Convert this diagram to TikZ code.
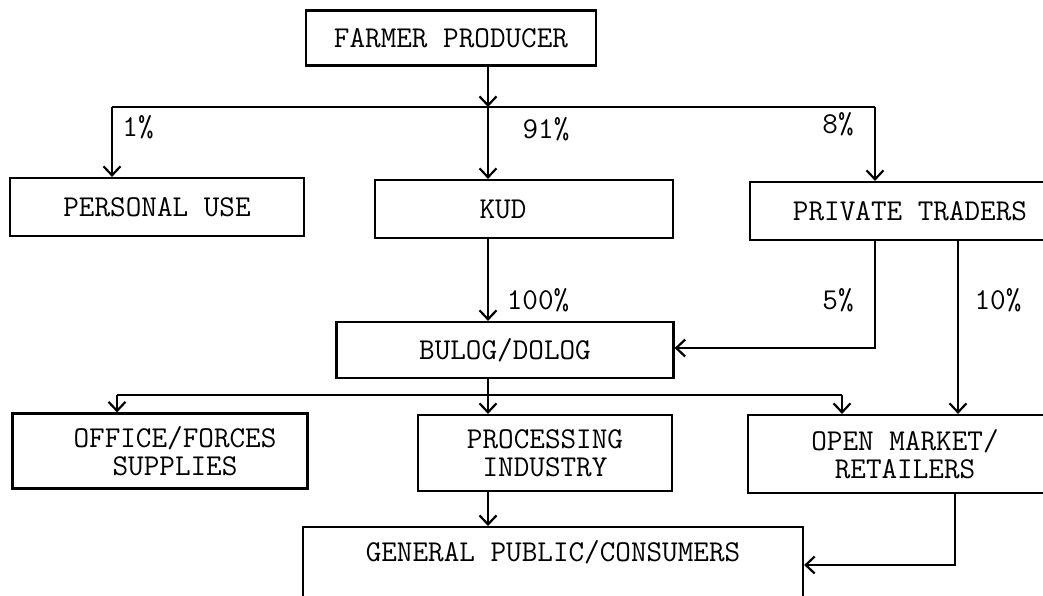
\documentclass[tikz,border=0pt]{standalone}
\usepackage{fontspec}
\usetikzlibrary{arrows.meta}
\tikzset{>={Straight Barb[length=9pt, width=17pt]}, % open v-shaped heads
box/.style={draw, rectangle, align=center, inner sep=0pt, font=\ttfamily\fontsize{30.3}{28.5}\selectfont}, % the typed boxes
pct/.style={font=\ttfamily\fontsize{30.3}{28.5}\selectfont, inner sep=0pt}, % the percentage labels
}
\begin{document}
\begin{tikzpicture}[x=1pt, y=-1pt, line width=2.2pt] % one unit is one pixel of the scan
  \useasboundingbox (0,0) rectangle (1043,595);
  \clip (0,0) rectangle (1043,595);

  \node[box, minimum width=290pt, minimum height=55pt] (farmer) at (451,38) {FARMER PRODUCER};
  \node[box, minimum width=294pt, minimum height=58pt] (personal) at (157,207) {PERSONAL USE};
  \node[box, minimum width=298pt, minimum height=58pt] (kud) at (524,209) {KUD\hspace*{42pt}};
  \node[box, minimum width=320pt, minimum height=58pt] (traders) at (910,211) {PRIVATE TRADERS};
  \node[box, minimum width=337pt, minimum height=56pt] (bulog) at (505,350) {BULOG/DOLOG};
  \node[box, minimum width=295pt, minimum height=75pt] (office) at (160,451) {\hspace*{30pt}OFFICE/FORCES\\\hspace*{30pt}SUPPLIES};
  \node[box, minimum width=254pt, minimum height=76pt] (industry) at (545,453) {PROCESSING\\INDUSTRY};
  \node[box, minimum width=314pt, minimum height=78pt] (market) at (905,454) {OPEN MARKET/\\RETAILERS};
  \node[box, minimum width=500pt, anchor=north] (public) at (553,526) {\rule{0pt}{34pt}GENERAL PUBLIC/CONSUMERS\\ \\ \\};

  \node[pct] (p1) at (138,127) {1\%};
  \node[pct] (p91) at (546,129) {91\%};
  \node[pct] (p8) at (838,124) {8\%};
  \node[pct] (p100) at (538,300) {100\%};
  \node[pct] (p5) at (838,300) {5\%};
  \node[pct] (p10) at (998,300) {10\%};

  % top split
  \coordinate (tl) at (112,107);
  \coordinate (tm) at (488,107);
  \coordinate (tr) at (875,107);
  \draw[->] (farmer.south -| tm) -- (tm);
  \draw (tl) -- (tr);
  \draw[->] (tl) -- (tl |- personal.north);
  \draw[->] (tm) -- (tm |- kud.north);
  \draw[->] (tr) -- (tr |- traders.north);

  % into bulog / dolog
  \coordinate (t5) at (875,348);
  \coordinate (t10) at (958,300);
  \draw[->] (kud.south -| tm) -- (bulog.north -| tm);
  \draw[->] (traders.south -| t5) -- (t5) -- (bulog.east |- t5);
  \draw[->] (traders.south -| t10) -- (market.north -| t10);

  % lower split
  \coordinate (ll) at (117,395);
  \coordinate (lm) at (488,395);
  \coordinate (lr) at (842,395);
  \draw (bulog.south -| lm) -- (lm);
  \draw (ll) -- (lr);
  \draw[->] (ll) -- (ll |- office.north);
  \draw[->] (lm) -- (lm |- industry.north);
  \draw[->] (lr) -- (lr |- market.north);

  % to the consumers
  \coordinate (m5) at (955,565);
  \draw[->] (industry.south -| lm) -- (public.north -| lm);
  \draw[->] (market.south -| m5) -- (m5) -- (public.east |- m5);

\end{tikzpicture}
\end{document}
